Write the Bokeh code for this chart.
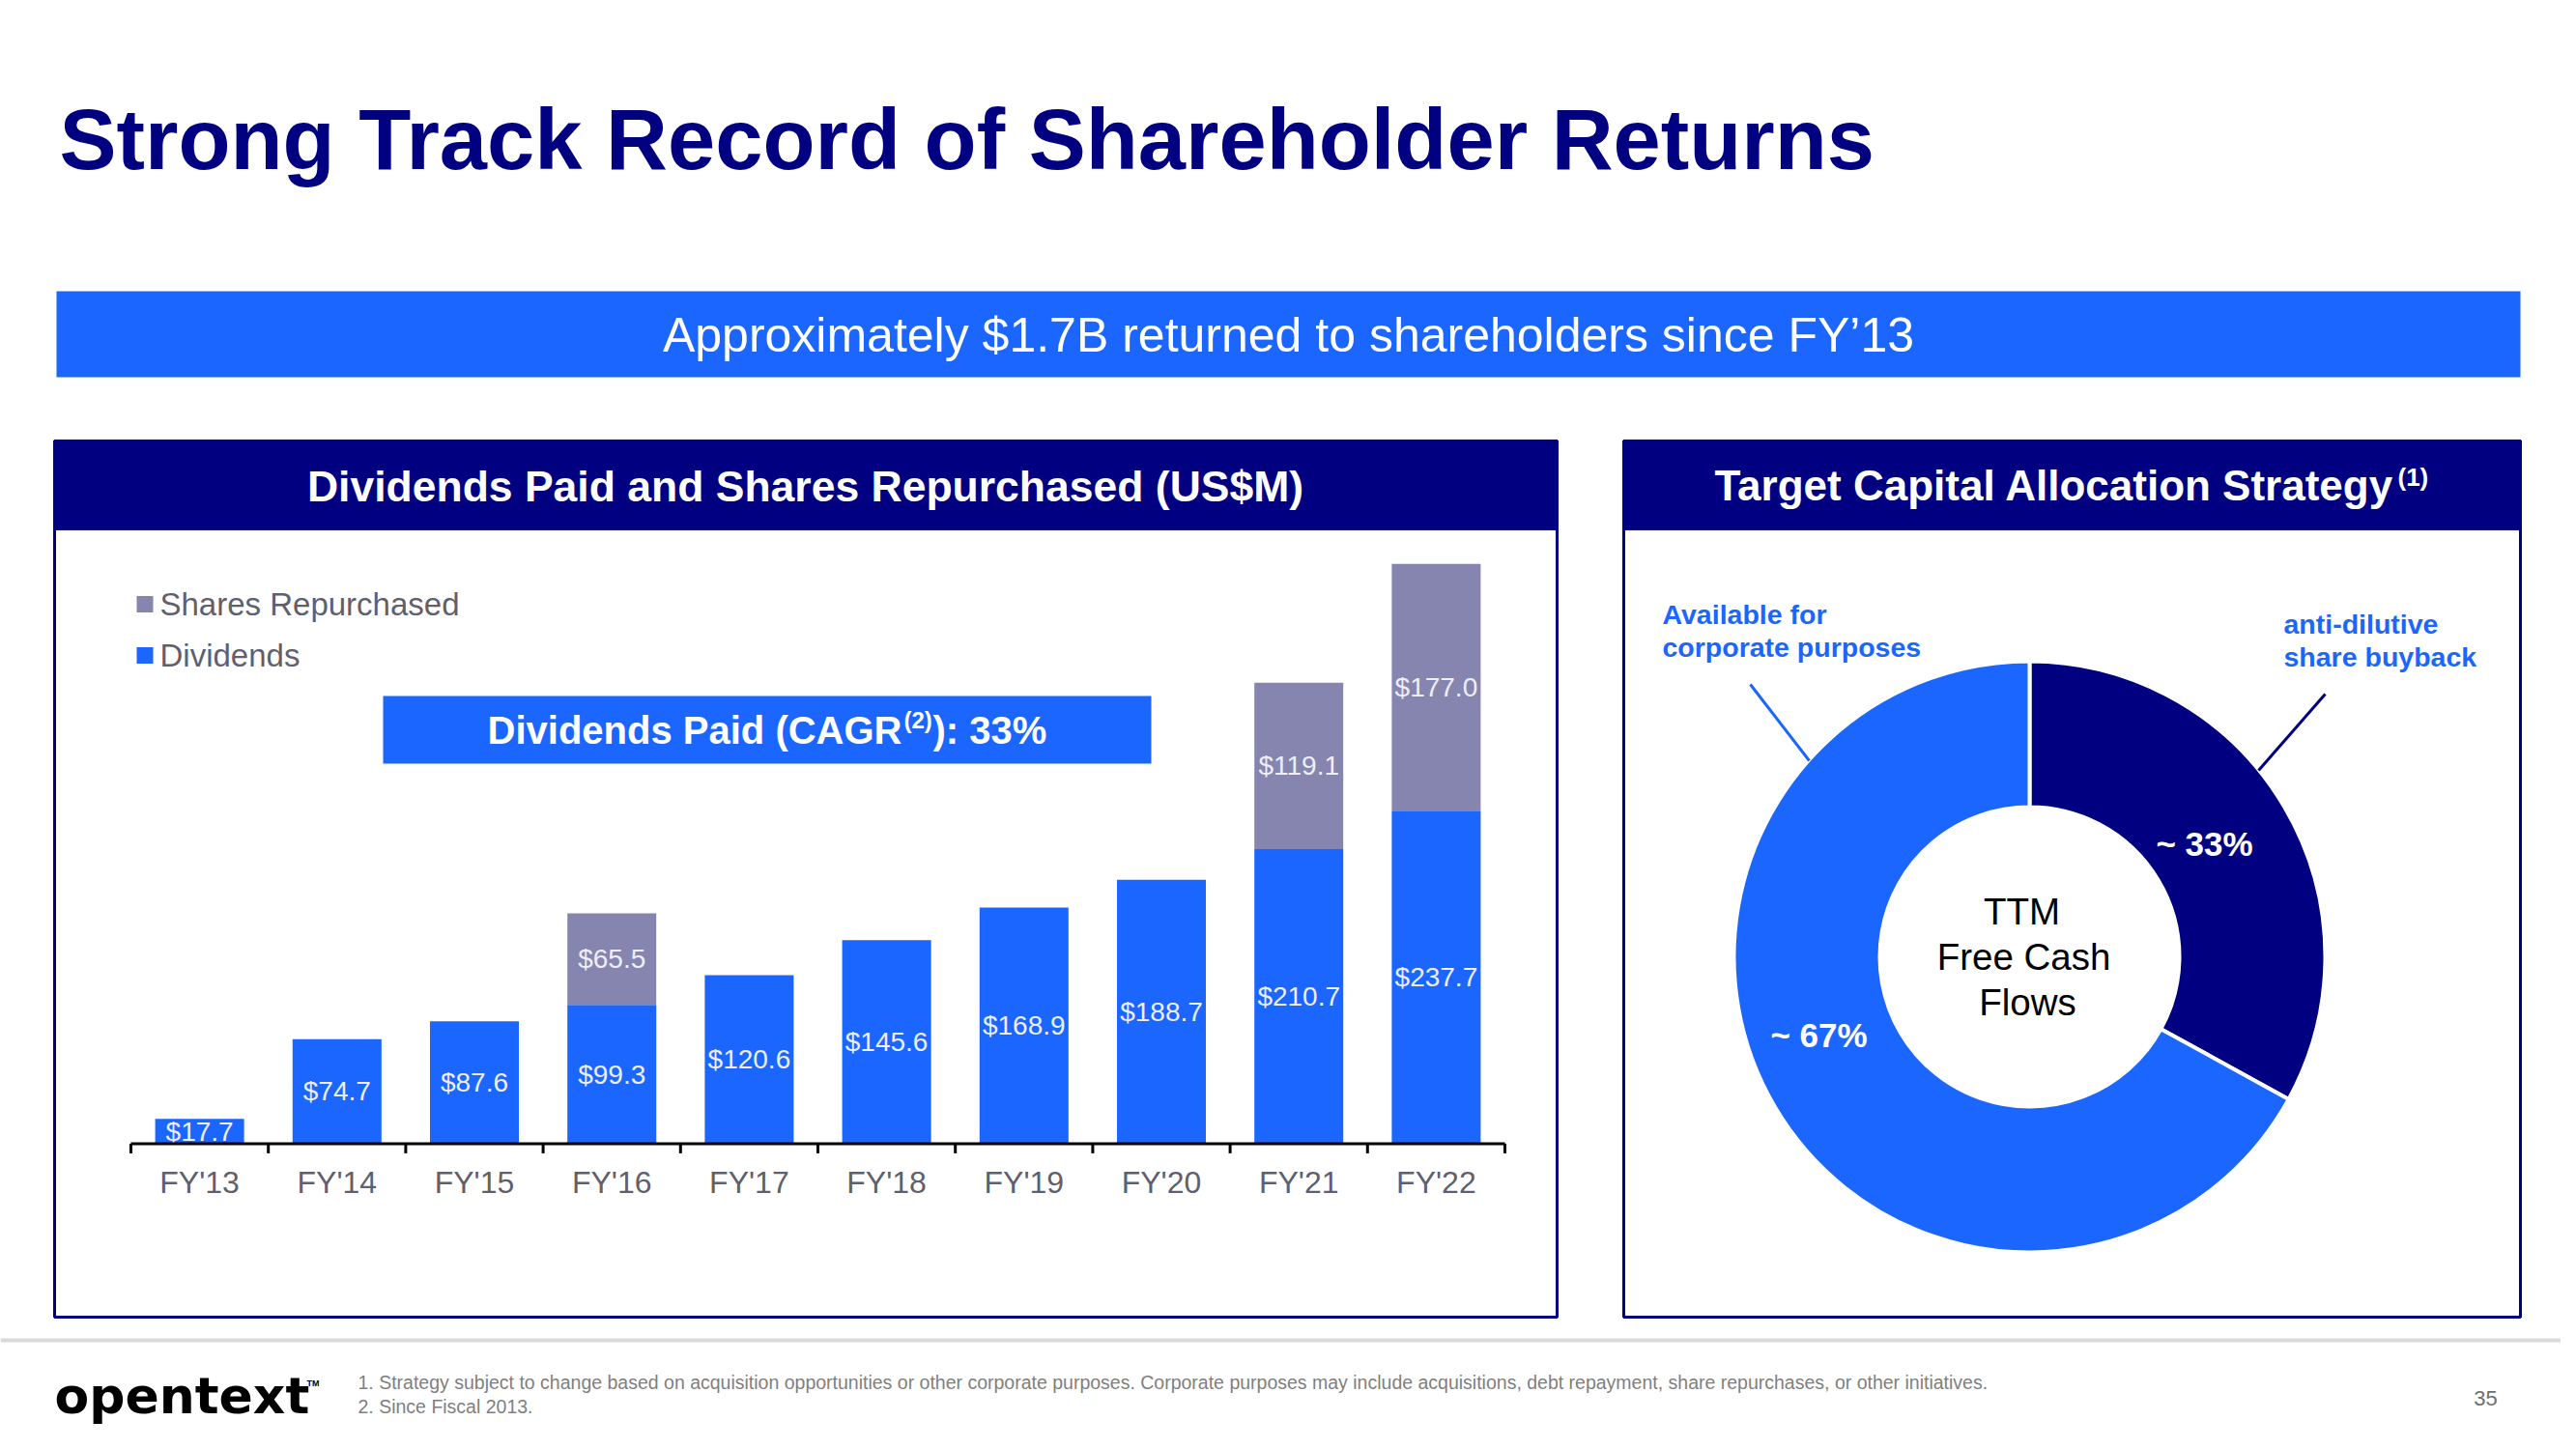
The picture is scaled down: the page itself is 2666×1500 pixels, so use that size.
import numpy as np
from bokeh.plotting import figure
from bokeh.models import Range1d, ColumnDataSource
from bokeh.core.properties import value
from bokeh.embed import file_html
from bokeh.resources import INLINE

# ---------------- data ----------------
categories = ["FY'13", "FY'14", "FY'15", "FY'16", "FY'17", "FY'18", "FY'19", "FY'20", "FY'21", "FY'22"]
dividends = [17.7, 74.7, 87.6, 99.3, 120.6, 145.6, 168.9, 188.7, 210.7, 237.7]
repurchased = [0.0, 0.0, 0.0, 65.5, 0.0, 0.0, 0.0, 0.0, 119.1, 177.0]
series_names = ["Shares Repurchased", "Dividends"]

alloc_names = ["anti-dilutive\nshare buyback", "Available for\ncorporate purposes"]
alloc_share = [33, 67]
alloc_labels = ["~ 33%", "~ 67%"]
center_lines = ["TTM", "Free Cash", "Flows"]

title_text = "Strong Track Record of Shareholder Returns"
banner_text = "Approximately $1.7B returned to shareholders since FY\u201913"
left_header = "Dividends Paid and Shares Repurchased (US$M)"
right_header = "Target Capital Allocation Strategy"
cagr_parts = ["Dividends Paid (CAGR", "(2)", "): 33%"]
footnotes = [
    "1. Strategy subject to change based on acquisition opportunities or other corporate purposes.  "
    "Corporate purposes may include acquisitions, debt repayment, share repurchases, or other initiatives.",
    "2. Since Fiscal 2013.",
]

# ---------------- style ----------------
NAVY = "#000080"
BLUE = "#1A66FF"
GRAY = "#8585AF"
TXT_GRAY = "#5F5F6F"
LABEL_C = "#EEEEF8"
FONT = value("Liberation Sans")

W, H = 2650, 1484
p = figure(width=W, height=H,
           x_range=Range1d(0, W), y_range=Range1d(H, 0),
           output_backend="svg", toolbar_location=None, min_border=0,
           x_axis_location=None, y_axis_location=None,
           background_fill_color="white", border_fill_color="white",
           outline_line_color=None)
p.grid.visible = False

# bar chart scale (layout constants, in page pixels)
AX_X0, CAT_W = 135.0, 142.2
AX_Y, PX_PER = 1183.4, 1.447
# donut centre
CX, CY = 2100.0, 990.0

p.extra_x_ranges = {
    "bx": Range1d((0 - AX_X0) / CAT_W, (W - AX_X0) / CAT_W),
    "dx": Range1d(0 - CX, W - CX),
}
p.extra_y_ranges = {
    "by": Range1d((AX_Y - H) / PX_PER, (AX_Y - 0) / PX_PER),
    "dy": Range1d(CY - H, CY - 0),
}

def txt(x, y, t, size, color, bold=False, align="left", baseline="middle", font=FONT, **kw):
    p.text(x=x, y=y, text=t, text_font=font, text_font_size=f"{size}px",
           text_font_style="bold" if bold else "normal", text_color=color,
           text_align=align, text_baseline=baseline, **kw)

# ---------------- slide furniture ----------------
txt([61], [144], [title_text], 88.5, NAVY, bold=True)

p.quad(left=[58], right=[2608], top=[301], bottom=[390], fill_color=BLUE, line_color=None)
txt([1333], [346], [banner_text], 50, "white", align="center")

# panels
p.quad(left=[56, 1680], right=[1611, 2608], top=[456, 456], bottom=[1363, 1363],
       fill_color="white", line_color=NAVY, line_width=3)
p.quad(left=[56, 1680], right=[1611, 2608], top=[456, 456], bottom=[547, 547],
       fill_color=NAVY, line_color=NAVY, line_width=3)
txt([833], [503], [left_header], 44.5, "white", bold=True, align="center")
txt([1774], [502], [right_header], 44, "white", bold=True)
txt([2481], [493], ["(1)"], 26, "white", bold=True)

# ---------------- bar chart ----------------
n = len(categories)
xs = np.arange(n) + 0.5
src = ColumnDataSource(dict(x=xs, div=dividends, rep=repurchased))
p.vbar_stack(["div", "rep"], x="x", width=0.647, fill_color=[BLUE, GRAY],
             line_color=None, source=src, x_range_name="bx", y_range_name="by")

# value labels
div_y = [d / 2 for d in dividends]
div_t = [f"${d:.1f}" for d in dividends]
rep_x = [x for x, r in zip(xs, repurchased) if r > 0]
rep_y = [d + r / 2 for d, r in zip(dividends, repurchased) if r > 0]
rep_t = [f"${r:.1f}" for r in repurchased if r > 0]
txt(list(xs), div_y, div_t, 28, LABEL_C, align="center",
    x_range_name="bx", y_range_name="by")
txt(rep_x, rep_y, rep_t, 28, LABEL_C, align="center",
    x_range_name="bx", y_range_name="by")

# category axis
p.segment(x0=[0], y0=[0], x1=[n], y1=[0], line_color="black", line_width=3,
          x_range_name="bx", y_range_name="by")
ticks = np.arange(n + 1)
p.segment(x0=ticks, y0=[0] * (n + 1), x1=ticks, y1=[-10 / PX_PER] * (n + 1),
          line_color="black", line_width=3, x_range_name="bx", y_range_name="by")
txt(list(xs), [-(1223 - AX_Y) / PX_PER] * n, categories, 32, TXT_GRAY,
    align="center", x_range_name="bx", y_range_name="by")

# legend
leg_y = [625, 678]
p.quad(left=[141, 141], right=[158, 158], top=[y - 8.5 for y in leg_y],
       bottom=[y + 8.5 for y in leg_y], fill_color=[GRAY, BLUE], line_color=None)
txt([165, 165], leg_y, series_names, 33, TXT_GRAY)

# CAGR box
p.quad(left=[396], right=[1191], top=[720], bottom=[790], fill_color=BLUE, line_color=None)
txt([933], [755], [cagr_parts[0]], 40, "white", bold=True, align="right")
txt([935], [745], [cagr_parts[1]], 24, "white", bold=True)
txt([965], [755], [cagr_parts[2]], 40, "white", bold=True)

# ---------------- donut ----------------
fr = np.array(alloc_share, dtype=float) / sum(alloc_share)
cum = np.cumsum(fr)
starts = np.pi / 2 - 2 * np.pi * (cum - fr)
ends = np.pi / 2 - 2 * np.pi * cum
dsrc = ColumnDataSource(dict(s=starts, e=ends, c=[NAVY, BLUE]))
p.annular_wedge(x=0, y=0, inner_radius=155, outer_radius=306, start_angle="s", end_angle="e",
                direction="clock", fill_color="c", line_color="white", line_width=4,
                source=dsrc, x_range_name="dx", y_range_name="dy")
txt([181, -218], [117, -81], alloc_labels, 35, "white", bold=True, align="center",
    x_range_name="dx", y_range_name="dy")

txt([2092, 2094, 2098], [943, 990, 1037], center_lines, 38.5, "black", align="center")

# annotations with leader lines
ann_x = [2363, 1720]
ann_y0 = [645, 635]
for ax_, ay_, name in zip(ann_x, ann_y0, alloc_names):
    lines = name.split("\n")
    txt([ax_] * len(lines), [ay_ + 34 * k for k in range(len(lines))], lines, 28.5, BLUE, bold=True)
p.segment(x0=[2406, 1811], y0=[718, 708], x1=[2337, 1872], y1=[797, 787],
          line_color=[NAVY, BLUE], line_width=3)

# ---------------- footer ----------------
p.segment(x0=[0], y0=[1387], x1=[W], y1=[1387], line_color="#D9D9D9", line_width=4)
txt([56], [1444], ["opentext"], 52, "black", bold=True, font=value("DejaVu Sans"))
txt([317], [1431], ["TM"], 9, "black", bold=True)
txt([370, 370], [1430, 1455], footnotes, 19.5, "#7F7F7F")
txt([2572], [1447], ["35"], 22, "#6F6F6F", align="center")

open("out.html", "w").write(file_html(p, INLINE, "Strong Track Record of Shareholder Returns"))
